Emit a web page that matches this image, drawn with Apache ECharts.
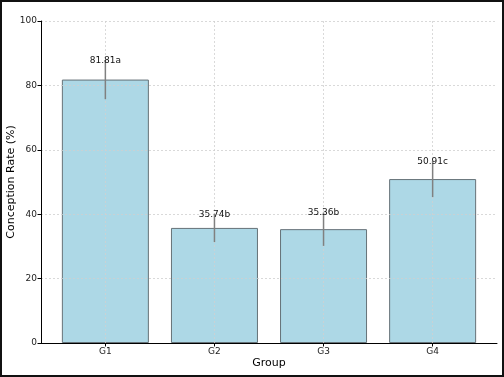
<!DOCTYPE html>
<html>
<head>
<meta charset="utf-8">
<script src="https://cdn.jsdelivr.net/npm/echarts@6/dist/echarts.min.js"></script>
<style>
  html, body { margin: 0; padding: 0; background: #fff; }
  #chart { width: 504px; height: 377px; }
</style>
</head>
<body>
<div id="chart"></div>
<script>
var groups = ['G1', 'G2', 'G3', 'G4'];
var rates = [81.81, 35.74, 35.36, 50.91];
var errors = [6.1, 4.4, 5.2, 5.6];
var letters = ['a', 'b', 'b', 'c'];
var yTicks = [0, 20, 40, 60, 80, 100];

var font = 'DejaVu Sans';
var myChart = echarts.init(document.getElementById('chart'));

var barData = rates.map(function (v, i) { return [i, v]; });
var errData = rates.map(function (v, i) { return [i, v - errors[i], v + errors[i], v]; });

var option = {
    animation: false,
    textStyle: { fontFamily: font },
    graphic: [{
        type: 'rect',
        shape: { x: 1, y: 1, width: 502, height: 375 },
        style: { fill: null, stroke: '#111', lineWidth: 2 },
        z: 100
    }],
    grid: { left: 41, right: 7, top: 21, bottom: 34, containLabel: false, outerBoundsMode: 'none' },
    xAxis: {
        type: 'value',
        min: -0.59,
        max: 3.59,
        z: 5,
        name: 'Group',
        nameLocation: 'middle',
        nameGap: 15,
        nameMoveOverlap: false,
        nameTextStyle: { fontSize: 11, color: '#000', fontFamily: font, verticalAlign: 'top' },
        axisLine: { show: true, onZero: false, lineStyle: { color: '#000', width: 1 } },
        axisTick: { show: true, customValues: [0, 1, 2, 3], length: 3.5, lineStyle: { color: '#000' } },
        axisLabel: {
            customValues: [0, 1, 2, 3],
            fontSize: 9, color: '#222', margin: 4,
            formatter: function (v) { return groups[Math.round(v)]; }
        },
        splitLine: { show: false }
    },
    yAxis: {
        type: 'value',
        min: yTicks[0],
        max: yTicks[yTicks.length - 1],
        interval: 20,
        z: 5,
        name: 'Conception Rate (%)',
        nameLocation: 'middle',
        nameGap: 24,
        nameMoveOverlap: false,
        nameTextStyle: { fontSize: 11, color: '#000', fontFamily: font },
        axisLine: { show: true, onZero: false, lineStyle: { color: '#000', width: 1 } },
        axisTick: { show: true, length: 3.5, lineStyle: { color: '#000' } },
        axisLabel: { fontSize: 9, color: '#222', margin: 4 },
        splitLine: { show: true, lineStyle: { color: '#d0d0d0', type: [2, 2], width: 0.8 } }
    },
    series: [{
        type: 'bar',
        data: barData,
        barWidth: 87,
        z: 2,
        itemStyle: { color: '#add8e6', borderColor: '#667278', borderWidth: 1 },
        markLine: {
            silent: true,
            symbol: 'none',
            z: 4,
            label: { show: false },
            lineStyle: { color: '#d0d0d0', type: [2, 2], width: 0.8 },
            data: [0, 1, 2, 3].map(function (i) { return { xAxis: i }; })
        }
    }, {
        type: 'custom',
        z: 6,
        data: errData,
        renderItem: function (params, api) {
            var x = api.value(0);
            var lo = api.coord([x, api.value(1)]);
            var hi = api.coord([x, api.value(2)]);
            var i = params.dataIndex;
            return {
                type: 'group',
                children: [{
                    type: 'line',
                    shape: { x1: lo[0], y1: lo[1], x2: hi[0], y2: hi[1] },
                    style: { stroke: '#808080', lineWidth: 1.5 }
                }, {
                    type: 'text',
                    x: hi[0],
                    y: hi[1] + 5,
                    style: {
                        text: rates[i].toFixed(2) + letters[i],
                        fontSize: 9,
                        fontFamily: font,
                        fill: '#111',
                        align: 'center',
                        verticalAlign: 'bottom'
                    }
                }]
            };
        }
    }]
};
myChart.setOption(option);
</script>
</body>
</html>
